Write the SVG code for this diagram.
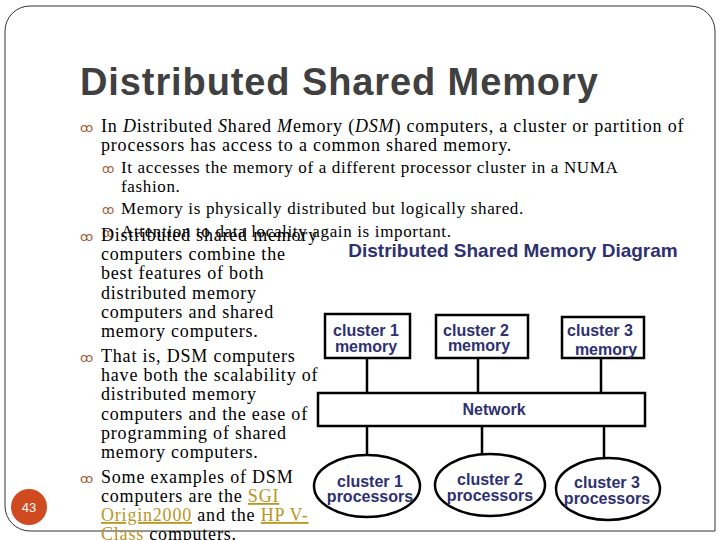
<svg xmlns="http://www.w3.org/2000/svg" width="720" height="540" viewBox="0 0 720 540">
<style>
.t{font-family:"Liberation Serif",serif;font-size:18px;letter-spacing:0.8px;fill:#000}
.s{font-family:"Liberation Serif",serif;font-size:17px;letter-spacing:0.65px;fill:#000}
.b{font-family:"DejaVu Sans",sans-serif;fill:#a0603a}
.d{font-family:"Liberation Sans",Arial,sans-serif;font-weight:bold;fill:#2e3070;font-size:16px;text-anchor:middle}
.l{fill:#b8961e;text-decoration:underline}
.n{fill:#fff;stroke:#000;stroke-width:2.5}
</style>
<rect width="720" height="540" fill="#fff"/>
<path d="M30 6 H690 A25 25 0 0 1 715 31 V531 H30 A25 25 0 0 1 5 506 V31 A25 25 0 0 1 30 6Z" fill="none" stroke="#333" stroke-width="1"/>
<text x="80" y="95" font-family="Liberation Sans,Arial,sans-serif" font-weight="bold" font-size="38" letter-spacing="0.9" fill="#404040">Distributed Shared Memory</text>
<circle cx="29" cy="507" r="18" fill="#d04a20"/>
<text x="29" y="512" font-family="Liberation Sans,sans-serif" font-size="13" fill="#fff" text-anchor="middle">43</text>
<text class="b" x="80" y="132" font-size="13">ꝏ</text>
<text class="t" x="101" y="132">In <tspan font-style="italic">D</tspan>istributed <tspan font-style="italic">S</tspan>hared <tspan font-style="italic">M</tspan>emory (<tspan font-style="italic">DSM</tspan>) computers, a cluster or partition of</text>
<text class="t" x="101" y="151">processors has access to a common shared memory.</text>
<text class="b" x="102" y="173" font-size="12">ꝏ</text>
<text class="s" x="121" y="173">It accesses the memory of a different processor cluster in a NUMA</text>
<text class="s" x="121" y="192">fashion.</text>
<text class="b" x="102" y="214" font-size="12">ꝏ</text>
<text class="s" x="121" y="214">Memory is physically distributed but logically shared.</text>
<text class="b" x="102" y="237" font-size="12">ꝏ</text>
<text class="s" x="121" y="237">Attention to data locality again is important.</text>
<text class="b" x="80" y="241" font-size="13">ꝏ</text>
<text class="t" x="101" y="241">Distributed shared memory</text>
<g class="t">
<text x="101" y="260">computers combine the</text>
<text x="101" y="279">best features of both</text>
<text x="101" y="299">distributed memory</text>
<text x="101" y="318">computers and shared</text>
<text x="101" y="337">memory computers.</text>
<text x="101" y="362">That is, DSM computers</text>
<text x="101" y="381">have both the scalability of</text>
<text x="101" y="400">distributed memory</text>
<text x="101" y="420">computers and the ease of</text>
<text x="101" y="439">programming of shared</text>
<text x="101" y="458">memory computers.</text>
<text x="101" y="483">Some examples of DSM</text>
<text x="101" y="502">computers are the <tspan class="l">SGI</tspan></text>
<text x="101" y="521"><tspan class="l">Origin2000</tspan> and the <tspan class="l">HP V-</tspan></text>
<text x="101" y="540"><tspan class="l">Class</tspan> computers.</text>
</g>
<text class="b" x="80" y="362" font-size="13">ꝏ</text>
<text class="b" x="80" y="483" font-size="13">ꝏ</text>
<text x="513" y="257" font-family="Liberation Sans,Arial,sans-serif" font-weight="bold" font-size="19" fill="#2e3070" text-anchor="middle">Distributed Shared Memory Diagram</text>
<g id="connectors" stroke="#000" stroke-width="2.5">
<line x1="367" y1="358" x2="367" y2="393"/>
<line x1="478" y1="358" x2="478" y2="393"/>
<line x1="601" y1="358" x2="601" y2="393"/>
<line x1="367" y1="426" x2="367" y2="460"/>
<line x1="482" y1="426" x2="482" y2="459"/>
<line x1="604" y1="426" x2="604" y2="462"/>
</g>
<g id="mem1"><rect class="n" x="325" y="314" width="85" height="44"/><text class="d" x="366" y="336">cluster 1</text><text class="d" x="366" y="352">memory</text></g>
<g id="mem2"><rect class="n" x="436" y="315" width="92" height="43"/><text class="d" x="476" y="336">cluster 2</text><text class="d" x="479" y="351">memory</text></g>
<g id="mem3"><rect class="n" x="562" y="317" width="82" height="41"/><text class="d" x="600" y="336">cluster 3</text><text class="d" x="606" y="355">memory</text></g>
<g id="network"><rect class="n" x="318" y="393" width="327" height="33"/><text class="d" x="494" y="415">Network</text></g>
<g id="proc1"><ellipse class="n" cx="367" cy="486" rx="53" ry="31"/><text class="d" x="370" y="487">cluster 1</text><text class="d" x="370" y="502">processors</text></g>
<g id="proc2"><ellipse class="n" cx="490" cy="485" rx="55" ry="31"/><text class="d" x="490" y="485">cluster 2</text><text class="d" x="490" y="501">processors</text></g>
<g id="proc3"><ellipse class="n" cx="608" cy="489" rx="52" ry="31"/><text class="d" x="607" y="488">cluster 3</text><text class="d" x="607" y="504">processors</text></g>
</svg>
